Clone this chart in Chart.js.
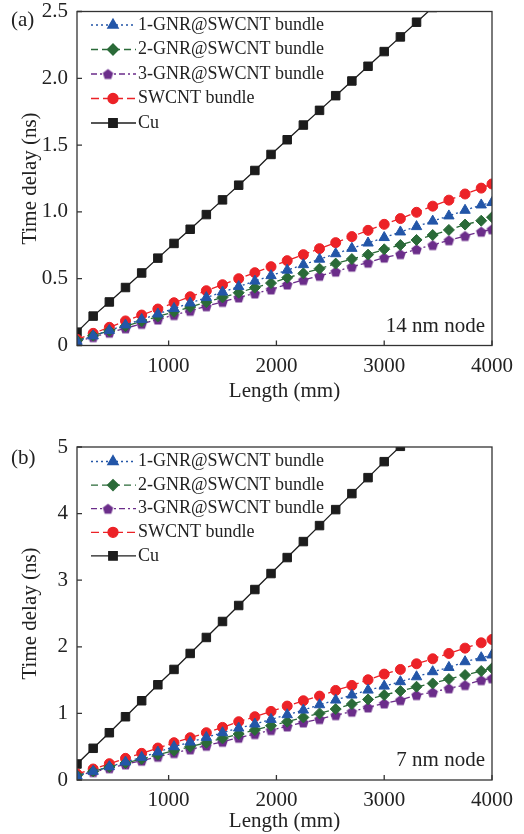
<!DOCTYPE html>
<html>
<head>
<meta charset="utf-8">
<script src="https://cdn.jsdelivr.net/npm/chart.js@4.4.1/dist/chart.umd.min.js"></script>
<style>
  html, body { margin: 0; padding: 0; background: #fff; }
  canvas { display: block; }
</style>
</head>
<body>
<canvas id="chartA" width="524" height="404"></canvas>
<canvas id="chartB" width="524" height="430"></canvas>
<script>
// interconnect length (x axis)
const lengths = [150, 300, 450, 600, 750, 900, 1050, 1200, 1350, 1500, 1650, 1800, 1950, 2100,
  2250, 2400, 2550, 2700, 2850, 3000, 3150, 3300, 3450, 3600, 3750, 3900, 4000];
const seriesNames = ["1-GNR@SWCNT bundle", "2-GNR@SWCNT bundle", "3-GNR@SWCNT bundle", "SWCNT bundle", "Cu"];

// (a) 14 nm node
const gnr1A = [0.031, 0.072, 0.113, 0.154, 0.195, 0.236, 0.277, 0.318, 0.359, 0.400, 0.441, 0.482, 0.523, 0.564,
  0.605, 0.646, 0.687, 0.727, 0.767, 0.808, 0.850, 0.890, 0.931, 0.970, 1.012, 1.052, 1.070];
const gnr2A = [0.038, 0.074, 0.110, 0.145, 0.181, 0.217, 0.252, 0.288, 0.324, 0.360, 0.395, 0.433, 0.467, 0.507,
  0.540, 0.575, 0.613, 0.647, 0.680, 0.720, 0.752, 0.790, 0.827, 0.865, 0.905, 0.934, 0.960];
const gnr3A = [0.031, 0.063, 0.096, 0.129, 0.162, 0.195, 0.228, 0.260, 0.294, 0.327, 0.360, 0.390, 0.420, 0.457,
  0.490, 0.522, 0.553, 0.590, 0.620, 0.658, 0.684, 0.720, 0.752, 0.788, 0.820, 0.852, 0.870];
const swcntA = [0.046, 0.091, 0.136, 0.184, 0.228, 0.273, 0.320, 0.365, 0.410, 0.455, 0.500, 0.545, 0.590, 0.635,
  0.680, 0.725, 0.770, 0.815, 0.862, 0.907, 0.950, 0.997, 1.043, 1.088, 1.134, 1.178, 1.209];
const cuA = [0.10, 0.22, 0.326, 0.434, 0.543, 0.654, 0.764, 0.870, 0.980, 1.09, 1.20, 1.31, 1.43, 1.54,
  1.65, 1.76, 1.87, 1.98, 2.09, 2.20, 2.31, 2.42, 2.53];

// (b) 7 nm node
const gnr1B = [0.06, 0.13, 0.20, 0.27, 0.34, 0.42, 0.50, 0.57, 0.64, 0.71, 0.78, 0.84, 0.91, 0.98,
  1.05, 1.13, 1.20, 1.276, 1.35, 1.41, 1.476, 1.55, 1.626, 1.69, 1.776, 1.836, 1.877];
const gnr2B = [0.07, 0.13, 0.195, 0.255, 0.315, 0.38, 0.44, 0.50, 0.56, 0.625, 0.69, 0.75, 0.815, 0.875,
  0.94, 1.00, 1.065, 1.14, 1.21, 1.276, 1.336, 1.40, 1.45, 1.516, 1.576, 1.636, 1.677];
const gnr3B = [0.065, 0.12, 0.178, 0.235, 0.29, 0.35, 0.405, 0.46, 0.515, 0.575, 0.635, 0.69, 0.75, 0.805,
  0.865, 0.915, 0.975, 1.026, 1.09, 1.15, 1.20, 1.276, 1.317, 1.377, 1.426, 1.50, 1.527];
const swcntB = [0.09, 0.165, 0.245, 0.325, 0.40, 0.48, 0.56, 0.635, 0.71, 0.79, 0.875, 0.95, 1.03, 1.11,
  1.19, 1.26, 1.345, 1.42, 1.505, 1.59, 1.66, 1.745, 1.82, 1.90, 1.98, 2.06, 2.11];
const cuB = [0.24, 0.476, 0.71, 0.95, 1.19, 1.43, 1.66, 1.90, 2.14, 2.38, 2.62, 2.86, 3.10, 3.34,
  3.58, 3.82, 4.06, 4.30, 4.54, 4.78, 5.01];

const xTicks = [1000, 2000, 3000, 4000];
const yTicksA = [0, 0.5, 1, 1.5, 2, 2.5];
const yTicksB = [0, 1, 2, 3, 4, 5];

const FONT = "'Liberation Serif', 'Times New Roman', serif";

// chart.js has no pentagon, so draw one on a small canvas
function pentagon(color, r) {
  const s = Math.ceil(r * 2) + 2;
  const c = document.createElement("canvas");
  c.width = s; c.height = s;
  const g = c.getContext("2d");
  g.beginPath();
  for (let i = 0; i < 5; i++) {
    const ang = -Math.PI / 2 + i * 2 * Math.PI / 5;
    const px = s / 2 + r * Math.cos(ang), py = s / 2 + 0.6 + r * Math.sin(ang);
    if (i === 0) g.moveTo(px, py); else g.lineTo(px, py);
  }
  g.closePath();
  g.fillStyle = color;
  g.fill();
  return c;
}

const styles = [
  {color: "#2356a8", dash: [2, 3], point: "triangle", radius: 6},
  {color: "#2a6a38", dash: [7, 4], point: "rectRot", radius: 5.5},
  {color: "#6b2d8a", dash: [6, 3, 2, 3], point: pentagon("#6b2d8a", 5.5), radius: 5.5},
  {color: "#ec2227", dash: [8, 4], point: "circle", radius: 5},
  {color: "#1c1c1c", dash: [], point: "rect", radius: 6}
];

function makeDatasets(list) {
  return list.map((vals, i) => ({
    label: seriesNames[i],
    data: vals.map((v, k) => ({x: lengths[k], y: v})),
    borderColor: styles[i].color,
    backgroundColor: styles[i].color,
    borderWidth: 1.3,
    borderDash: styles[i].dash,
    pointStyle: styles[i].point,
    pointRadius: styles[i].radius,
    pointBorderWidth: 1,
    pointBackgroundColor: styles[i].color,
    pointBorderColor: styles[i].color,
    tension: 0,
    clip: 0
  }));
}

const decor = {
  id: "decor",
  afterDraw(chart, args, opts) {
    const {ctx, chartArea: a, scales} = chart;
    ctx.save();
    ctx.strokeStyle = "#333";
    ctx.lineWidth = 1.3;
    ctx.strokeRect(a.left, a.top, a.right - a.left, a.bottom - a.top);
    ctx.beginPath();
    scales.x.ticks.forEach(t => {
      const px = scales.x.getPixelForValue(t.value);
      ctx.moveTo(px, a.bottom); ctx.lineTo(px, a.bottom - 5);
    });
    scales.y.ticks.forEach(t => {
      const py = scales.y.getPixelForValue(t.value);
      ctx.moveTo(a.left, py); ctx.lineTo(a.left + 5, py);
    });
    ctx.stroke();

    // legend inside the plot: line sample + marker + text
    ctx.font = "18px " + FONT;
    ctx.textBaseline = "middle";
    chart.data.datasets.forEach((ds, i) => {
      const y = a.top + opts.legendTop + i * opts.legendGap;
      ctx.strokeStyle = ds.borderColor;
      ctx.lineWidth = ds.borderWidth;
      ctx.setLineDash(ds.borderDash);
      ctx.beginPath();
      ctx.moveTo(a.left + 14, y); ctx.lineTo(a.left + 59, y);
      ctx.stroke();
      ctx.setLineDash([]);
      ctx.fillStyle = ds.backgroundColor;
      Chart.helpers.drawPoint(ctx, {pointStyle: ds.pointStyle, radius: ds.pointRadius, borderWidth: 1, rotation: 0},
        a.left + (i === 2 ? 31 : 36), y);
      ctx.fillStyle = "#222";
      ctx.fillText(ds.label, a.left + 61, y);
    });

    ctx.font = "21px " + FONT;
    ctx.fillStyle = "#222";
    ctx.textAlign = "right";
    ctx.fillText(opts.node, a.right - 7, a.bottom - opts.nodeOffset);
    ctx.textAlign = "left";
    ctx.fillText(opts.panel, 11, opts.panelY);
    ctx.restore();
  }
};

function makeChart(id, list, yMax, yTicks, fmt, top, extra) {
  return new Chart(document.getElementById(id), {
    type: "line",
    data: {datasets: makeDatasets(list)},
    options: {
      responsive: false,
      animation: false,
      layout: {padding: {left: 0, right: 32, top: top, bottom: 0}},
      plugins: {legend: {display: false}, tooltip: {enabled: false}, decor: extra},
      scales: {
        x: {
          type: "linear", min: 150, max: 4000,
          grid: {display: false, drawTicks: false},
          border: {display: false},
          afterBuildTicks: s => { s.ticks = xTicks.map(v => ({value: v})); },
          afterFit: s => { s.height = extra.xHeight; s.paddingLeft = 0; s.paddingRight = 0; },
          ticks: {color: "#222", font: {family: FONT, size: 21}, padding: 8, callback: v => String(v)},
          title: {display: true, text: "Length (mm)", color: "#222", font: {family: FONT, size: 21}, padding: {top: 0, bottom: 0}}
        },
        y: {
          type: "linear", min: 0, max: yMax,
          grid: {display: false, drawTicks: false},
          border: {display: false},
          afterBuildTicks: s => { s.ticks = yTicks.map(v => ({value: v})); },
          afterFit: s => { s.width = 77; s.paddingTop = 0; s.paddingBottom = 0; },
          ticks: {color: "#222", font: {family: FONT, size: 21}, padding: 9, callback: fmt},
          title: {display: true, text: "Time delay (ns)", color: "#222", font: {family: FONT, size: 21}, padding: {top: 18, bottom: 0}}
        }
      }
    },
    plugins: [decor]
  });
}

makeChart("chartA", [gnr1A, gnr2A, gnr3A, swcntA, cuA], 2.5, yTicksA,
  v => v === 0 ? "0" : v.toFixed(1), 11.5,
  {legendTop: 13.5, legendGap: 24.5, node: "14 nm node", nodeOffset: 19, panel: "(a)", panelY: 20, xHeight: 58.5});

makeChart("chartB", [gnr1B, gnr2B, gnr3B, swcntB, cuB], 5, yTicksB,
  v => String(v), 43,
  {legendTop: 14.5, legendGap: 23.6, node: "7 nm node", nodeOffset: 20, panel: "(b)", panelY: 54, xHeight: 54});
</script>
</body>
</html>
